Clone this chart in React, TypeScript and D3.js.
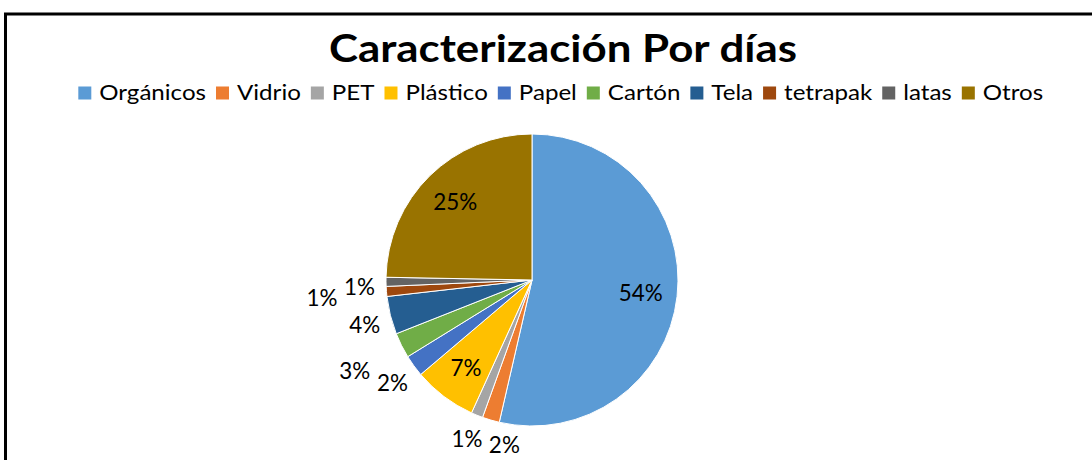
import React, { useEffect, useRef } from "react";
import * as d3 from "d3";

const categories = ["Orgánicos", "Vidrio", "PET", "Plástico", "Papel", "Cartón", "Tela", "tetrapak", "latas", "Otros"];
const values = [53.6, 1.9, 1.3, 7.0, 2.4, 2.8, 4.2, 1.1, 1.0, 24.7];
const colors = ["#5B9BD5", "#ED7D31", "#A5A5A5", "#FFC000", "#4472C4", "#70AD47", "#255E91", "#9E480E", "#636363", "#997300"];
const title = "Caracterización Por días";

const FONT = "Lato, 'Open Sans', sans-serif";
const W = 1092;
const H = 460;

type Sel = d3.Selection<any, any, any, any>;

function measure(svg: Sel, str: string, size: number, weight = 400) {
  const p = svg.append("text").attr("font-family", FONT).attr("font-size", size).attr("font-weight", weight).text(str);
  const w = (p.node() as SVGTextElement).getComputedTextLength();
  p.remove();
  return w;
}

function addText(parent: Sel, str: string, size: number, ratio: number, weight = 400) {
  const el = parent.append("text").attr("font-family", FONT).attr("font-size", size)
    .attr("font-weight", weight).attr("fill", "#000").text(str);
  const w = (el.node() as SVGTextElement).getComputedTextLength();
  const tw = w * ratio;
  el.attr("textLength", tw).attr("lengthAdjust", "spacingAndGlyphs");
  return { el, w: tw };
}

export default function App() {
  const ref = useRef<SVGSVGElement>(null);

  useEffect(() => {
    const svg = d3.select(ref.current) as Sel;
    svg.selectAll("*").remove();

    svg.append("rect").attr("x", 0).attr("y", 0).attr("width", W).attr("height", H).attr("fill", "#fff");
    svg.append("rect")
      .attr("x", 5.5).attr("y", 14).attr("width", 1300).attr("height", 1000)
      .attr("fill", "none").attr("stroke", "#000").attr("stroke-width", 3);

    // title
    const tfs = 38.5;
    const tRatio = 468 / measure(svg, title, tfs, 700);
    const t = addText(svg, title, tfs, tRatio, 700);
    t.el.attr("text-anchor", "middle").attr("x", 563).attr("y", 62);

    // legend
    const lfs = 20.5;
    const lRatio = 106.7 / measure(svg, categories[0], lfs);
    const sq = 13, gapSq = 8, gapItem = 10;
    const lg = svg.append("g");
    const items = categories.map((c, i) => {
      const g = lg.append("g");
      g.append("rect").attr("width", sq).attr("height", sq).attr("y", 86.5).attr("fill", colors[i]);
      const tx = addText(g, c, lfs, lRatio);
      tx.el.attr("x", sq + gapSq).attr("y", 100);
      return { g, w: sq + gapSq + tx.w };
    });
    const total = d3.sum(items, (d) => d.w) + gapItem * (items.length - 1);
    let x = 560.7 - total / 2;
    items.forEach((it) => {
      it.g.attr("transform", `translate(${x},0)`);
      x += it.w + gapItem;
    });

    // pie
    const cx = 532, cy = 280, R = 146;
    const sum = d3.sum(values);
    const pie = d3.pie<number>().sort(null).value((d) => d)(values);
    const arc = d3.arc<d3.PieArcDatum<number>>().innerRadius(0).outerRadius(R);
    const pg = svg.append("g").attr("transform", `translate(${cx},${cy})`);
    pg.selectAll("path").data(pie).enter().append("path")
      .attr("d", arc as any)
      .attr("fill", (_d, i) => colors[i])
      .attr("stroke", "#fff").attr("stroke-width", 1);

    // data labels: large slices inside, small ones outside with simple collision avoidance
    const fs = 23.5;
    const dRatio = 44 / measure(svg, "54%", fs);
    const lh = 20;
    const placed: { x: number; y: number; w: number }[] = [];
    const order = pie.map((_d, i) => i).sort((a, b) => values[a] - values[b]);
    order.forEach((i) => {
      const d = pie[i];
      const pct = (values[i] / sum) * 100;
      const txt = `${Math.round(pct)}%`;
      const th = (d.startAngle + d.endAngle) / 2;
      const s = Math.sin(th), c = -Math.cos(th);
      const { el, w } = addText(pg, txt, fs, dRatio);
      el.attr("text-anchor", "middle");
      let lx: number, ly: number;
      if (pct >= 5) {
        lx = 0.75 * R * s;
        ly = 0.75 * R * c;
      } else {
        const rr = R + 11;
        lx = rr * s + (s * w) / 2;
        ly = rr * c + (c * lh) / 2 + 4;
        let guard = 0;
        const hit = () => placed.find((p) => Math.abs(p.x - lx) < (p.w + w) / 2 + 6 && Math.abs(p.y - ly) < 24);
        let h = hit();
        while (h && guard < 300) {
          const dir = Math.abs(s) > 0.7 ? Math.sign(s) : Math.sign(lx - h.x) || 1;
          lx += dir;
          if (Math.abs(s) > 0.7 && Math.abs(c) > 0.3) ly += 0.5;
          guard++;
          h = hit();
        }
        placed.push({ x: lx, y: ly, w });
      }
      el.attr("x", lx).attr("y", ly + 0.36 * fs);
    });
  }, []);

  return <svg ref={ref} width={W} height={H} style={{ position: "absolute", left: 0, top: 0, background: "#fff" }} />;
}
